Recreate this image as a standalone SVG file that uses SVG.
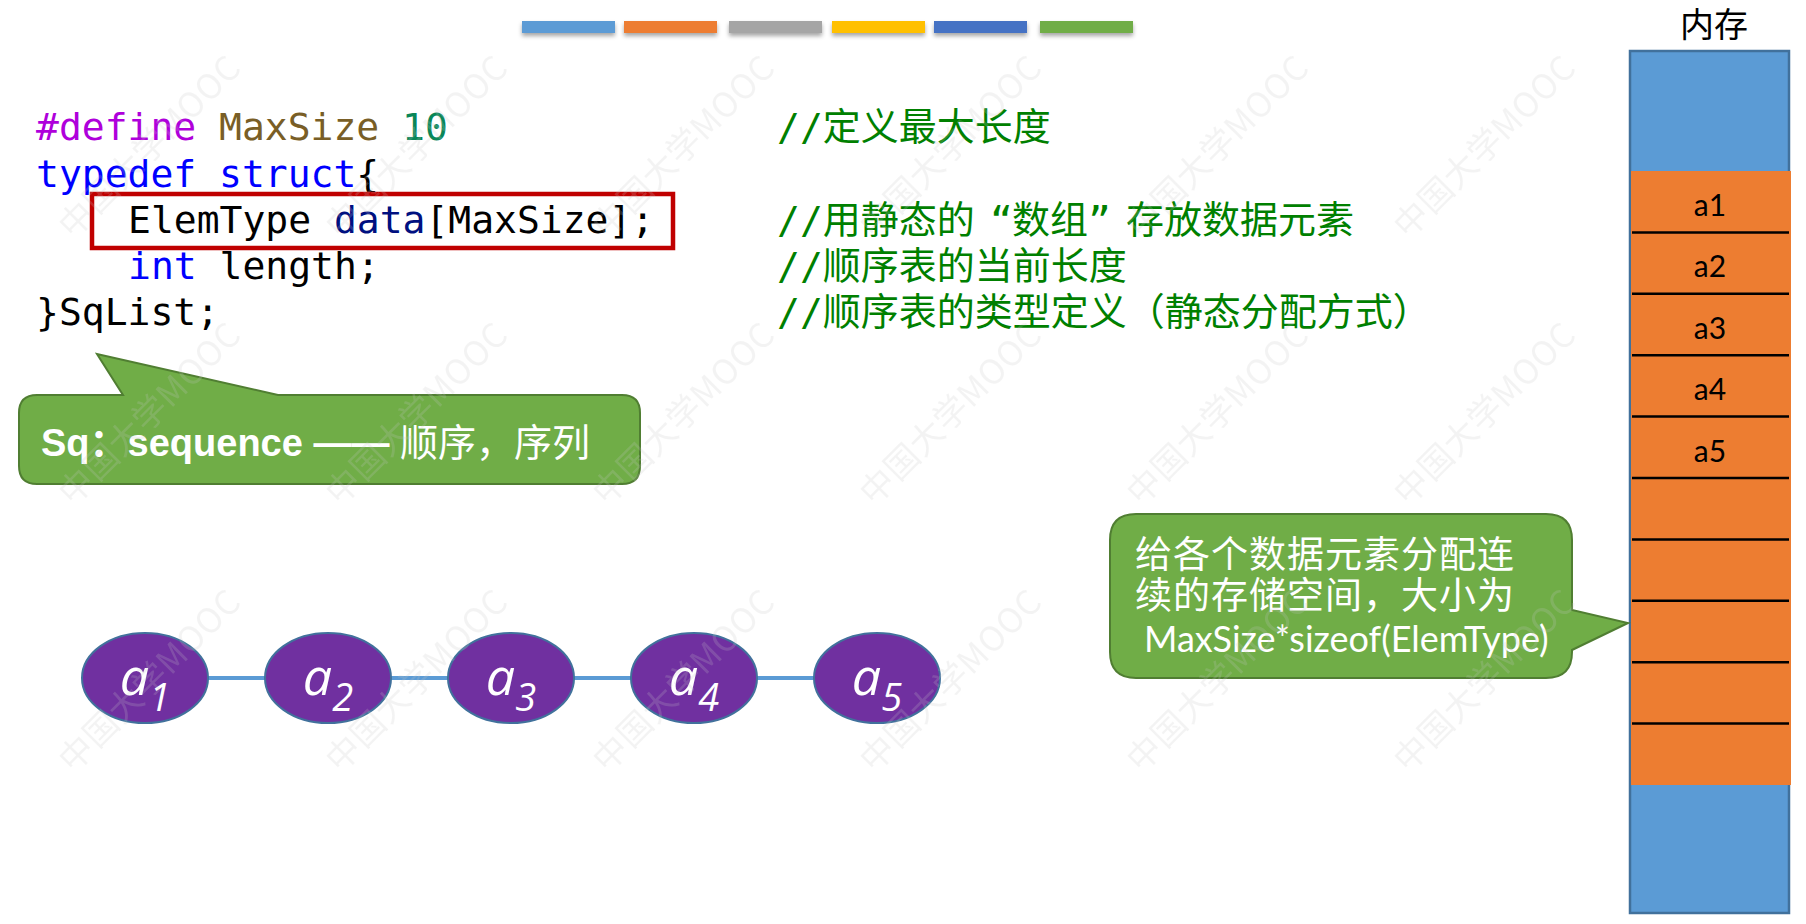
<svg xmlns="http://www.w3.org/2000/svg" width="1806" height="924" viewBox="0 0 1806 924">
<defs>
<filter id="sh" x="-10%" y="-50%" width="120%" height="250%">
<feDropShadow dx="0" dy="3" stdDeviation="2" flood-color="#000" flood-opacity="0.35"/>
</filter>
</defs>
<style>
.code{font-family:"DejaVu Sans Mono","Noto Sans CJK SC",monospace;font-size:38px;fill:#000}
.cmt{font-family:"DejaVu Sans Mono","Noto Sans CJK SC",monospace;font-size:38px;fill:#008000}
.kw{fill:#0000FF}
.bar{filter:url(#sh)}
.callout{fill:#70AD47;stroke:#507E32;stroke-width:2}
.node{fill:#7030A0;stroke:#41719C;stroke-width:2}
.conn{stroke:#5B9BD5;stroke-width:4;fill:none}
.nlabel{font-family:"Open Sans","Liberation Sans",sans-serif;font-style:italic;font-size:52px;fill:#fff;text-anchor:middle}
.cell{font-family:Lato,"Liberation Sans",sans-serif;font-size:30px;fill:#000;text-anchor:middle}
.sep{stroke:#000;stroke-width:2.5}
.wm{font-family:"Noto Sans CJK SC",sans-serif;font-size:34px;fill:#c8c8c8;opacity:0.2}
.ctext{font-family:"Noto Sans CJK SC",sans-serif;font-size:37px;letter-spacing:1px;fill:#fff}
</style>
<rect width="1806" height="924" fill="#fff"/>

<g id="color-bars">
<rect class="bar" x="522" y="21" width="93" height="12" fill="#5B9BD5"/>
<rect class="bar" x="624" y="21" width="93" height="12" fill="#ED7D31"/>
<rect class="bar" x="729" y="21" width="93" height="12" fill="#A5A5A5"/>
<rect class="bar" x="832" y="21" width="93" height="12" fill="#FFC000"/>
<rect class="bar" x="934" y="21" width="93" height="12" fill="#4472C4"/>
<rect class="bar" x="1040" y="21" width="93" height="12" fill="#70AD47"/>
</g>

<g id="code">
<text class="code" x="36" y="140"><tspan fill="#AF00DB">#define</tspan> <tspan fill="#795E26">MaxSize</tspan> <tspan fill="#098658">10</tspan></text>
<text class="code" x="36" y="187"><tspan class="kw">typedef</tspan> <tspan class="kw">struct</tspan>{</text>
<text class="code" x="128" y="233">ElemType <tspan fill="#001080">data</tspan>[MaxSize];</text>
<text class="code" x="128" y="279"><tspan class="kw">int</tspan> length;</text>
<text class="code" x="36" y="325">}SqList;</text>
<text class="cmt" x="777" y="140">//定义最大长度</text>
<text class="cmt" x="777" y="233">//用静态的<tspan x="990">“</tspan><tspan x="1012">数组</tspan><tspan x="1088">”</tspan><tspan x="1126">存放数据元素</tspan></text>
<text class="cmt" x="777" y="279">//顺序表的当前长度</text>
<text class="cmt" x="777" y="325">//顺序表的类型定义（静态分配方式）</text>
</g>

<g id="highlight-box">
<rect x="92" y="194" width="581" height="54" fill="none" stroke="#C00000" stroke-width="4.5"/>
</g>

<g id="callout-sq">
<path class="callout" d="M37,395 H123 L97,354 L278,395 H622 Q640,395 640,413 V466 Q640,484 622,484 H37 Q19,484 19,466 V413 Q19,395 37,395 Z"/>
<text x="41" y="456" font-family="'Liberation Sans','Noto Sans CJK SC',sans-serif" font-size="38" font-weight="bold" fill="#fff">Sq：sequence —— <tspan font-family="'Noto Sans CJK SC',sans-serif" font-weight="normal">顺序，序列</tspan></text>
</g>

<g id="connectors">
<line class="conn" x1="208" y1="678" x2="265" y2="678"/>
<line class="conn" x1="391" y1="678" x2="448" y2="678"/>
<line class="conn" x1="574" y1="678" x2="631" y2="678"/>
<line class="conn" x1="757" y1="678" x2="814" y2="678"/>
</g>

<g id="node-a1"><ellipse class="node" cx="145" cy="678" rx="63" ry="45"/><text class="nlabel" x="145" y="695">a<tspan dy="16" font-size="38">1</tspan></text></g>
<g id="node-a2"><ellipse class="node" cx="328" cy="678" rx="63" ry="45"/><text class="nlabel" x="328" y="695">a<tspan dy="16" font-size="38">2</tspan></text></g>
<g id="node-a3"><ellipse class="node" cx="511" cy="678" rx="63" ry="45"/><text class="nlabel" x="511" y="695">a<tspan dy="16" font-size="38">3</tspan></text></g>
<g id="node-a4"><ellipse class="node" cx="694" cy="678" rx="63" ry="45"/><text class="nlabel" x="694" y="695">a<tspan dy="16" font-size="38">4</tspan></text></g>
<g id="node-a5"><ellipse class="node" cx="877" cy="678" rx="63" ry="45"/><text class="nlabel" x="877" y="695">a<tspan dy="16" font-size="38">5</tspan></text></g>

<g id="memory">
<text x="1714" y="37" font-family="'Noto Sans CJK SC',sans-serif" font-size="34" text-anchor="middle" fill="#000">内存</text>
<rect x="1630" y="51" width="159" height="862" fill="#5B9BD5" stroke="#41719C" stroke-width="2.5"/>
<rect x="1631" y="171" width="160" height="614" fill="#ED7D31"/>
<line class="sep" x1="1632" y1="232.4" x2="1789" y2="232.4"/>
<line class="sep" x1="1632" y1="293.8" x2="1789" y2="293.8"/>
<line class="sep" x1="1632" y1="355.2" x2="1789" y2="355.2"/>
<line class="sep" x1="1632" y1="416.6" x2="1789" y2="416.6"/>
<line class="sep" x1="1632" y1="478" x2="1789" y2="478"/>
<line class="sep" x1="1632" y1="539.4" x2="1789" y2="539.4"/>
<line class="sep" x1="1632" y1="600.8" x2="1789" y2="600.8"/>
<line class="sep" x1="1632" y1="662.2" x2="1789" y2="662.2"/>
<line class="sep" x1="1632" y1="723.6" x2="1789" y2="723.6"/>
<text class="cell" x="1710" y="216">a1</text>
<text class="cell" x="1710" y="277.4">a2</text>
<text class="cell" x="1710" y="338.8">a3</text>
<text class="cell" x="1710" y="400.2">a4</text>
<text class="cell" x="1710" y="461.6">a5</text>
</g>

<g id="callout-alloc">
<path class="callout" d="M1136,514 H1546 Q1572,514 1572,540 V610 L1628,623 L1572,650 V652 Q1572,678 1546,678 H1136 Q1110,678 1110,652 V540 Q1110,514 1136,514 Z"/>
<text class="ctext"><tspan x="1135" y="568">给各个数据元素分配连</tspan><tspan x="1135" y="609">续的存储空间，大小为</tspan><tspan x="1144" y="652" font-family="Lato,'Open Sans',sans-serif" font-size="36px" letter-spacing="0">MaxSize*sizeof(ElemType)</tspan></text>
</g>

<g id="watermark">
<text class="wm" x="73" y="240" transform="rotate(-45 73 240)" textLength="240">中国大学MOOC</text>
<text class="wm" x="340" y="240" transform="rotate(-45 340 240)" textLength="240">中国大学MOOC</text>
<text class="wm" x="607" y="240" transform="rotate(-45 607 240)" textLength="240">中国大学MOOC</text>
<text class="wm" x="874" y="240" transform="rotate(-45 874 240)" textLength="240">中国大学MOOC</text>
<text class="wm" x="1141" y="240" transform="rotate(-45 1141 240)" textLength="240">中国大学MOOC</text>
<text class="wm" x="1408" y="240" transform="rotate(-45 1408 240)" textLength="240">中国大学MOOC</text>
<text class="wm" x="73" y="507" transform="rotate(-45 73 507)" textLength="240">中国大学MOOC</text>
<text class="wm" x="340" y="507" transform="rotate(-45 340 507)" textLength="240">中国大学MOOC</text>
<text class="wm" x="607" y="507" transform="rotate(-45 607 507)" textLength="240">中国大学MOOC</text>
<text class="wm" x="874" y="507" transform="rotate(-45 874 507)" textLength="240">中国大学MOOC</text>
<text class="wm" x="1141" y="507" transform="rotate(-45 1141 507)" textLength="240">中国大学MOOC</text>
<text class="wm" x="1408" y="507" transform="rotate(-45 1408 507)" textLength="240">中国大学MOOC</text>
<text class="wm" x="73" y="774" transform="rotate(-45 73 774)" textLength="240">中国大学MOOC</text>
<text class="wm" x="340" y="774" transform="rotate(-45 340 774)" textLength="240">中国大学MOOC</text>
<text class="wm" x="607" y="774" transform="rotate(-45 607 774)" textLength="240">中国大学MOOC</text>
<text class="wm" x="874" y="774" transform="rotate(-45 874 774)" textLength="240">中国大学MOOC</text>
<text class="wm" x="1141" y="774" transform="rotate(-45 1141 774)" textLength="240">中国大学MOOC</text>
<text class="wm" x="1408" y="774" transform="rotate(-45 1408 774)" textLength="240">中国大学MOOC</text>
</g>
</svg>
